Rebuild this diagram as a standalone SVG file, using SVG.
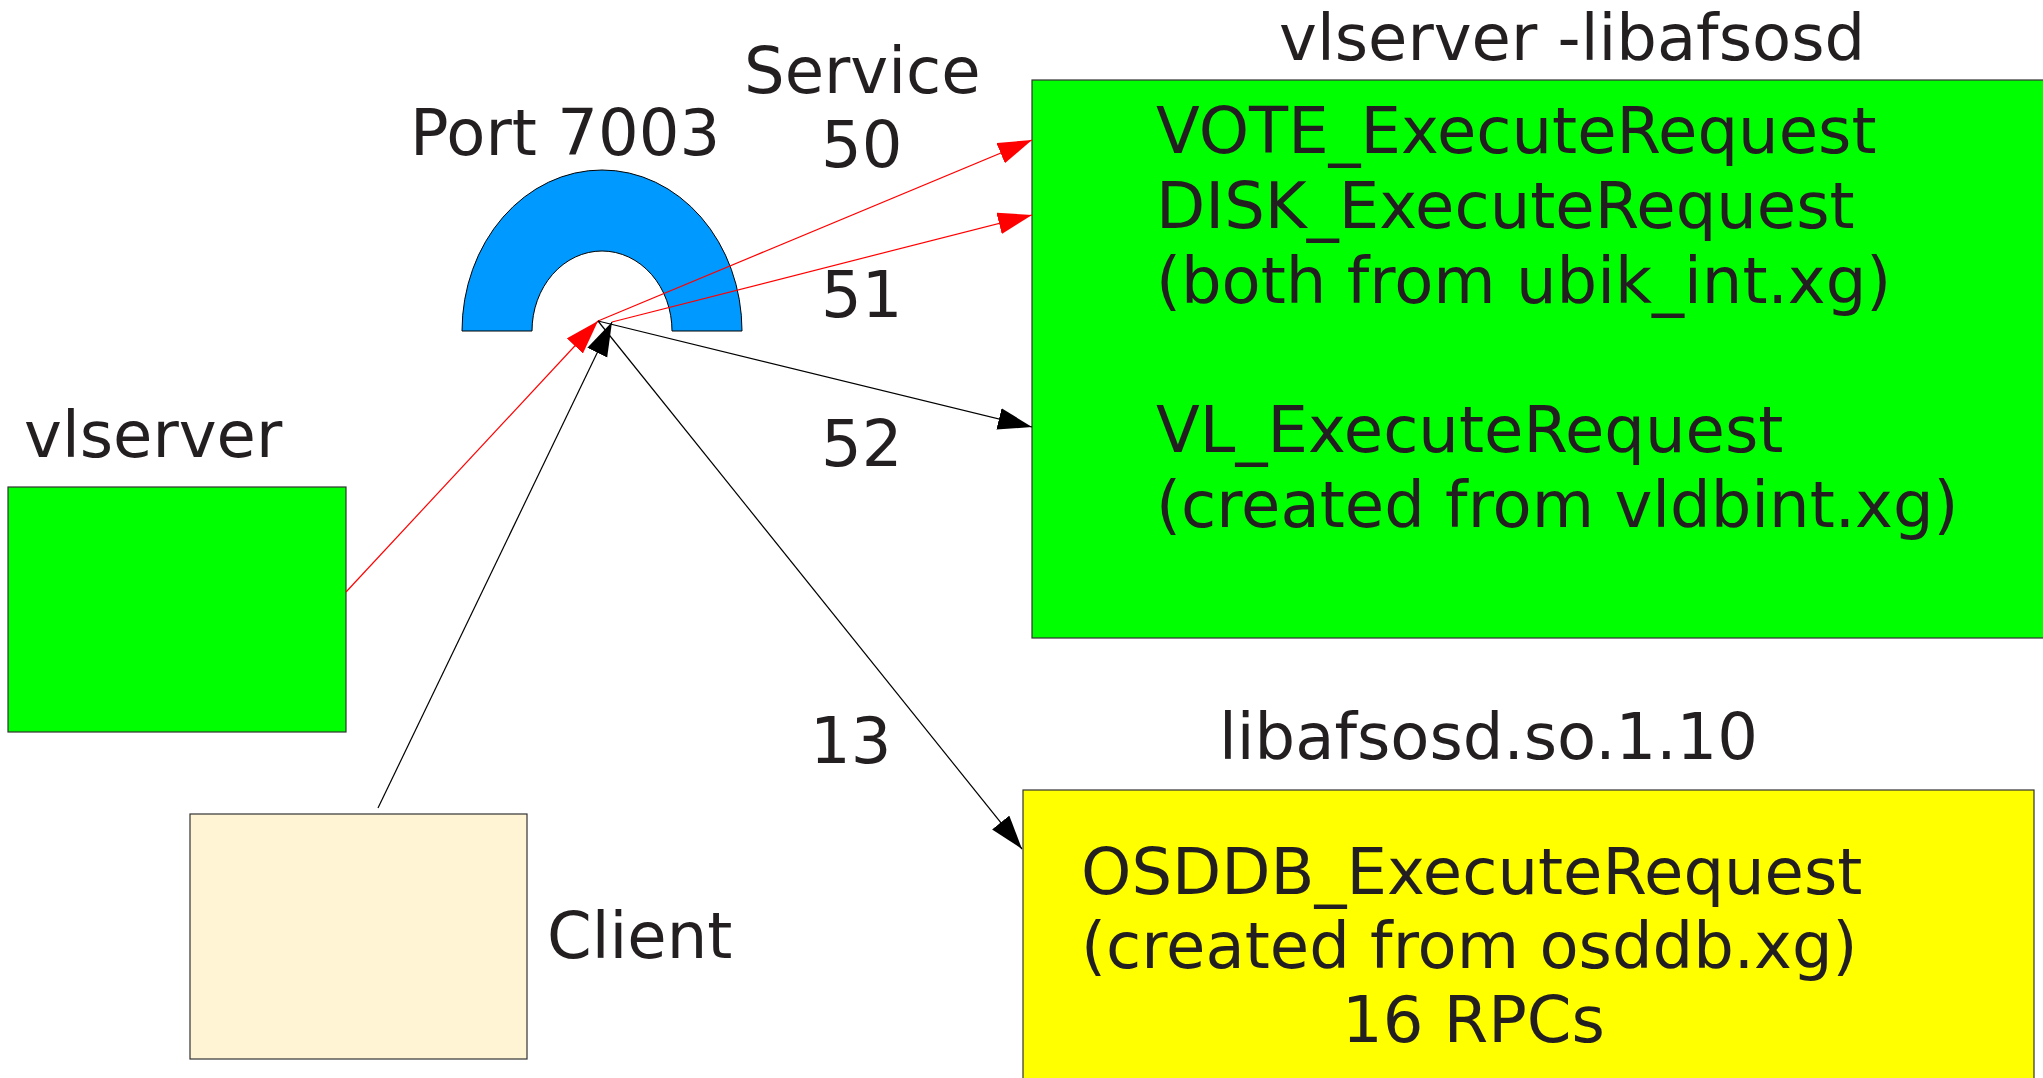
<svg xmlns="http://www.w3.org/2000/svg" width="2043" height="1078" viewBox="0 0 2043 1078">
  <style>
    .lbl { font-family: "DejaVu Sans", "Liberation Sans", sans-serif; font-size: 64px; fill: #231f20; }
    .box { stroke: #333333; stroke-width: 1.2; }
    .green { fill: #00ff00; }
    .yellow { fill: #ffff00; }
    .cream { fill: #fff5d5; }
    .red { stroke: #ff0000; stroke-width: 1.2; fill: none; }
    .blk { stroke: #000000; stroke-width: 1.2; fill: none; }
  </style>
  <defs>
    <marker id="arrowRed" markerUnits="userSpaceOnUse" markerWidth="36" markerHeight="24" refX="34" refY="11" orient="auto">
      <path d="M0,0 L34,11 L0,22 Z" fill="#ff0000"/>
    </marker>
    <marker id="arrowBlack" markerUnits="userSpaceOnUse" markerWidth="36" markerHeight="24" refX="34" refY="11" orient="auto">
      <path d="M0,0 L34,11 L0,22 Z" fill="#000000"/>
    </marker>
  </defs>

  <rect width="2043" height="1078" fill="#ffffff"/>

  <!-- port arch -->
  <g id="port7003">
    <path d="M462,331 A140,161 0 0 1 742,331 L672,331 A70,80 0 0 0 532,331 Z" fill="#0099ff" stroke="#000000" stroke-width="1"/>
    <text class="lbl" x="410" y="155">Port 7003</text>
  </g>

  <!-- service numbers -->
  <g id="service-labels">
    <text class="lbl" x="744" y="93">Service</text>
    <text class="lbl" x="821" y="167">50</text>
    <text class="lbl" x="821" y="317">51</text>
    <text class="lbl" x="821" y="466">52</text>
    <text class="lbl" x="810" y="763">13</text>
  </g>

  <!-- standard vlserver -->
  <g id="vlserver">
    <rect class="box green" x="8" y="487" width="338" height="245"/>
    <text class="lbl" x="24" y="457">vlserver</text>
  </g>

  <!-- client -->
  <g id="client">
    <rect class="box cream" x="190" y="814" width="337" height="245"/>
    <text class="lbl" x="547" y="958">Client</text>
  </g>

  <!-- vlserver built with libafsosd -->
  <g id="vlserver-libafsosd">
    <rect class="box green" x="1032" y="80" width="1030" height="558"/>
    <text class="lbl" x="1279" y="60">vlserver -libafsosd</text>
    <text class="lbl" x="1156" y="153">VOTE_ExecuteRequest</text>
    <text class="lbl" x="1156" y="228">DISK_ExecuteRequest</text>
    <text class="lbl" x="1156" y="303">(both from ubik_int.xg)</text>
    <text class="lbl" x="1156" y="452">VL_ExecuteRequest</text>
    <text class="lbl" x="1156" y="527">(created from vldbint.xg)</text>
  </g>

  <!-- libafsosd shared library -->
  <g id="libafsosd">
    <rect class="box yellow" x="1023" y="790" width="1011" height="300"/>
    <text class="lbl" x="1219" y="759">libafsosd.so.1.10</text>
    <text class="lbl" x="1081" y="894">OSDDB_ExecuteRequest</text>
    <text class="lbl" x="1081" y="968">(created from osddb.xg)</text>
    <text class="lbl" x="1342" y="1042">16 RPCs</text>
  </g>

  <!-- connectors -->
  <g id="connectors">
    <line class="red" x1="346" y1="592" x2="598" y2="321" marker-end="url(#arrowRed)"/>
    <line class="red" x1="598" y1="321" x2="1032" y2="140" marker-end="url(#arrowRed)"/>
    <line class="red" x1="612" y1="322" x2="1032" y2="215" marker-end="url(#arrowRed)"/>
    <line class="blk" x1="378" y1="808" x2="612" y2="322" marker-end="url(#arrowBlack)"/>
    <line class="blk" x1="598" y1="321" x2="1032" y2="427" marker-end="url(#arrowBlack)"/>
    <line class="blk" x1="598" y1="321" x2="1022" y2="849" marker-end="url(#arrowBlack)"/>
  </g>
</svg>
